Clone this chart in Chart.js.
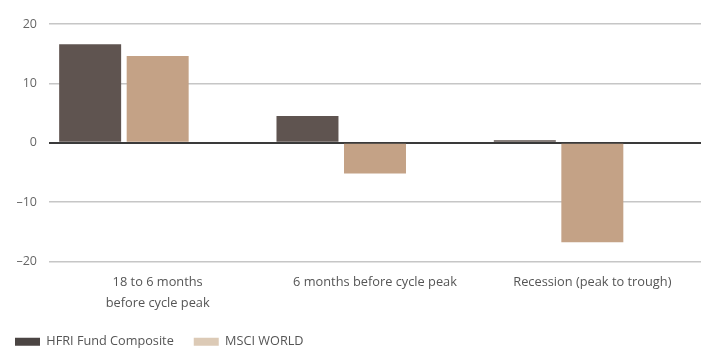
<!DOCTYPE html>
<html><head><meta charset="utf-8">
<script src="https://cdn.jsdelivr.net/npm/chart.js@4/dist/chart.umd.min.js"></script>
<style>html,body{margin:0;padding:0;background:#fff}</style>
</head><body>
<canvas id="c" width="701" height="349"></canvas>
<script>
const categories = [["18 to 6 months", "before cycle peak"], "6 months before cycle peak", "Recession (peak to trough)"];
const seriesNames = ["HFRI Fund Composite", "MSCI WORLD"];
const hfri = [16.6, 4.5, 0.4];
const msci = [14.6, -5.2, -16.8];
const yTicks = [-20, -10, 0, 10, 20];

const barColors = ["#5f5450", "#c4a286"];
const legendColors = ["#4b4543", "#dccab6"];

new Chart(document.getElementById('c'), {
  type: 'bar',
  data: {
    labels: categories,
    datasets: [
      { label: seriesNames[0], data: hfri, backgroundColor: barColors[0] },
      { label: seriesNames[1], data: msci, backgroundColor: barColors[1] },
      { label: '', data: categories.map(() => null), backgroundColor: 'rgba(0,0,0,0)' }
    ]
  },
  options: {
    responsive: false,
    animation: false,
    layout: { padding: { left: -5, right: 0, top: 24, bottom: -9 } },
    datasets: { bar: { categoryPercentage: 0.932, barPercentage: 0.918 } },
    plugins: {
      tooltip: { enabled: false },
      legend: {
        position: 'bottom',
        align: 'start',
        labels: {
          boxWidth: 25, boxHeight: 8, padding: 20,
          color: '#555',
          font: { family: 'Open Sans', size: 12.7 },
          filter: (item) => item.text !== '',
          generateLabels: (chart) => {
            const items = Chart.defaults.plugins.legend.labels.generateLabels(chart);
            items.forEach((it, i) => { if (legendColors[i]) { it.fillStyle = legendColors[i]; it.strokeStyle = legendColors[i]; it.lineWidth = 0; } });
            return items;
          }
        }
      }
    },
    scales: {
      x: {
        grid: { display: false },
        border: { display: false },
        ticks: { color: '#555', font: { family: 'Open Sans', size: 12.8, lineHeight: 1.6 }, padding: 3, maxRotation: 0, autoSkip: false },
        afterFit: (s) => { s.height = 54; }
      },
      y: {
        min: yTicks[0], max: yTicks[yTicks.length - 1],
        afterBuildTicks: (s) => { s.ticks = yTicks.map(v => ({ value: v })); },
        border: { display: false },
        grid: {
          drawTicks: false,
          color: (ctx) => ctx.tick && ctx.tick.value === 0 ? '#3a3a3a' : '#c6c6c6',
          lineWidth: (ctx) => ctx.tick && ctx.tick.value === 0 ? 2 : 1.5
        },
        ticks: {
          color: '#666', font: { family: 'Open Sans', size: 12.5 }, padding: 12,
          callback: (v) => v < 0 ? '\u2013' + Math.abs(v) : String(v)
        },
        afterFit: (s) => { s.width = 54; }
      }
    }
  }
});
</script>
</body></html>
